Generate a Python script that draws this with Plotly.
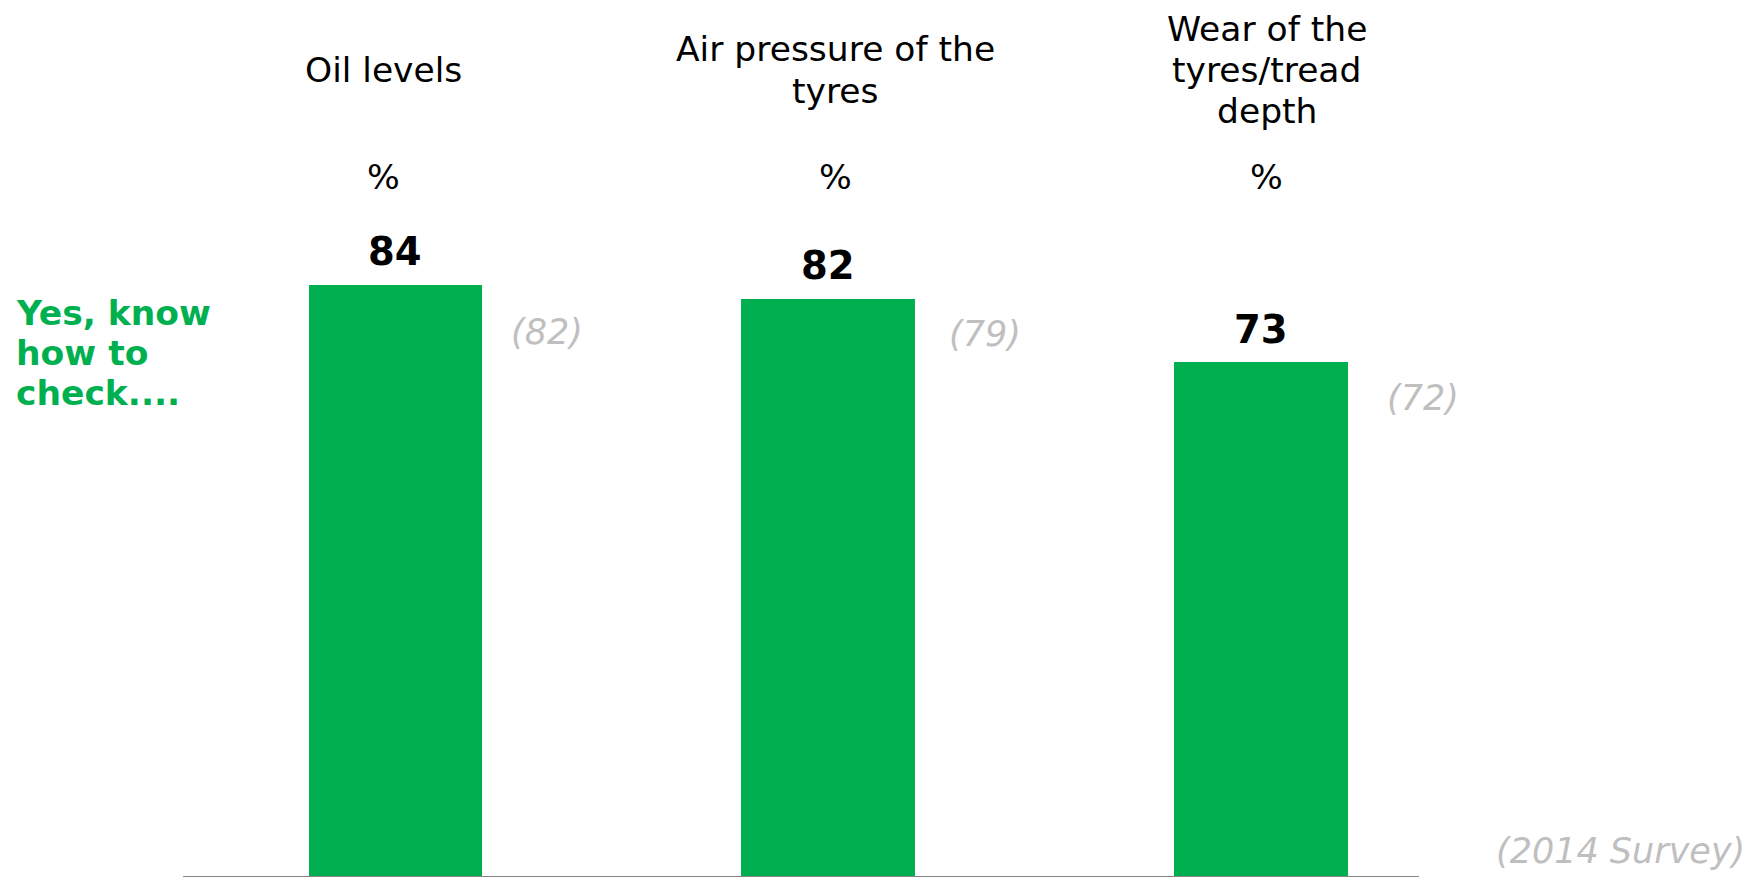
import plotly.graph_objects as go

# ---- data ----
categories = ["Oil levels", "Air pressure of the<br>tyres", "Wear of the<br>tyres/tread<br>depth"]
values_2015 = [84, 82, 73]
values_2014 = [82, 79, 72]
row_label = "Yes, know<br>how to<br>check...."
unit_label = "%"
footnote = "(2014 Survey)"

# ---- styling ----
GREEN = "#00B050"
GREY_TXT = "#BFBFBF"
FONT = "DejaVu Sans"
x_idx = list(range(len(categories)))
head_shift = [-12, 7, 6]
prev_xshift = [22, 27, 32]
prev_y_paper = [0.773, 0.770, 0.679]
LINE_H = 0.0587      # header line spacing (paper units)
LINE_H_GREEN = 0.0571

fig = go.Figure()
fig.add_trace(go.Bar(
    x=x_idx, y=values_2015, width=0.4,
    marker=dict(color=GREEN, line=dict(width=0)),
    hoverinfo="skip", showlegend=False,
))

ann = []
for i, (cat, v, pv) in enumerate(zip(categories, values_2015, values_2014)):
    lines = cat.split("<br>")
    n = len(lines)
    for k, ln in enumerate(lines):
        ann.append(dict(x=i, xref="x", y=1.145 + ((n - 1) / 2 - k) * LINE_H, yref="paper",
                        text=ln, showarrow=False, xanchor="center", yanchor="middle",
                        xshift=head_shift[i],
                        font=dict(family=FONT, size=34.5, color="#000000")))
    # percent sign
    ann.append(dict(x=i, xref="x", y=0.993, yref="paper", text=unit_label,
                    showarrow=False, xanchor="center", yanchor="middle",
                    xshift=head_shift[i],
                    font=dict(family=FONT, size=34.5, color="#000000")))
    # value label
    ann.append(dict(x=i, xref="x", y=v, yref="y", text="<b>%d</b>" % v,
                    showarrow=False, xanchor="center", yanchor="middle",
                    yshift=33,
                    font=dict(family=FONT, size=38.5, color="#000000")))
    # previous year
    ann.append(dict(x=i + 0.3, xref="x", y=prev_y_paper[i], yref="paper",
                    text="<i>(%d)</i>" % pv, xshift=prev_xshift[i],
                    showarrow=False, xanchor="center", yanchor="middle",
                    font=dict(family=FONT, size=35, color=GREY_TXT)))

g_lines = row_label.split("<br>")
for k, ln in enumerate(g_lines):
    ann.append(dict(x=-0.137, xref="paper",
                    y=0.743 + ((len(g_lines) - 1) / 2 - k) * LINE_H_GREEN, yref="paper",
                    text="<b>%s</b>" % ln, align="left",
                    showarrow=False, xanchor="left", yanchor="middle",
                    font=dict(family=FONT, size=34.5, color=GREEN)))
ann.append(dict(x=1.2654, xref="paper", y=0.0355, yref="paper",
                text="<i>%s</i>" % footnote,
                showarrow=False, xanchor="right", yanchor="middle",
                font=dict(family=FONT, size=35, color=GREY_TXT)))

fig.update_layout(
    width=1744, height=869,
    margin=dict(l=175, r=333, t=164, b=1),
    paper_bgcolor="white", plot_bgcolor="white",
    annotations=ann,
    xaxis=dict(range=[-0.49, 2.365], showticklabels=False, showgrid=False,
               zeroline=False, showline=True, linecolor="#868686", linewidth=2,
               ticks=""),
    yaxis=dict(range=[0, 100], visible=False, showgrid=False, zeroline=False),
    bargap=0,
)

fig.write_html("out.html")
